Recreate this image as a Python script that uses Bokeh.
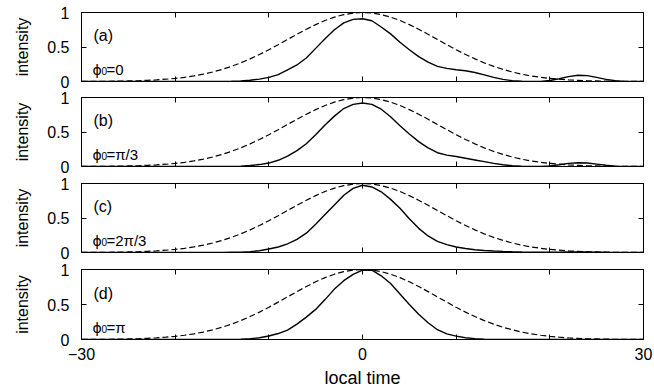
from bokeh.plotting import figure
from bokeh.layouts import column
from bokeh.models import Range1d, FixedTicker, LinearAxis, Label
from bokeh.embed import file_html
from bokeh.resources import INLINE

# ---------------- data ----------------
local_time = list(range(-30, 31))

input_pulse = [0.001, 0.001, 0.002, 0.003, 0.005, 0.008, 0.011, 0.017, 0.023, 0.033,
               0.045, 0.061, 0.081, 0.106, 0.138, 0.175, 0.219, 0.270, 0.328, 0.391,
               0.460, 0.534, 0.609, 0.684, 0.757, 0.824, 0.884, 0.933, 0.969, 0.992,
               1.000,
               0.992, 0.969, 0.933, 0.884, 0.824, 0.757, 0.684, 0.609, 0.534, 0.460,
               0.391, 0.328, 0.270, 0.219, 0.175, 0.138, 0.106, 0.081, 0.061, 0.045,
               0.033, 0.023, 0.017, 0.011, 0.008, 0.005, 0.003, 0.002, 0.001, 0.001]

output_a = [0, 0, 0, 0, 0, 0, 0, 0, 0, 0, 0, 0, 0, 0, 0, 0,
            0.003, 0.008, 0.018, 0.035, 0.06, 0.10, 0.17, 0.24, 0.34, 0.48, 0.62, 0.75, 0.85, 0.90,
            0.91,
            0.88, 0.79, 0.69, 0.57, 0.46, 0.36, 0.28, 0.22, 0.19, 0.17,
            0.155, 0.13, 0.095, 0.06, 0.03, 0.012, 0.004, 0.0, 0.002, 0.015,
            0.04, 0.07, 0.09, 0.085, 0.06, 0.03, 0.01, 0.002, 0.0, 0.0]

output_b = [0, 0, 0, 0, 0, 0, 0, 0, 0, 0, 0, 0, 0, 0, 0, 0,
            0.002, 0.006, 0.014, 0.028, 0.05, 0.09, 0.15, 0.23, 0.33, 0.46, 0.60, 0.73, 0.84, 0.90,
            0.92,
            0.90, 0.83, 0.72, 0.59, 0.47, 0.36, 0.27, 0.20, 0.165, 0.145,
            0.12, 0.095, 0.07, 0.045, 0.025, 0.012, 0.004, 0.0, 0.002, 0.008,
            0.025, 0.045, 0.055, 0.05, 0.035, 0.018, 0.006, 0.001, 0.0, 0.0]

output_c = [0, 0, 0, 0, 0, 0, 0, 0, 0, 0, 0, 0, 0, 0, 0, 0,
            0.003, 0.006, 0.012, 0.025, 0.05, 0.08, 0.125, 0.19, 0.28, 0.41, 0.55, 0.69, 0.83, 0.93,
            0.975,
            0.95, 0.88, 0.77, 0.64, 0.49, 0.35, 0.24, 0.16, 0.115, 0.08,
            0.058, 0.04, 0.03, 0.022, 0.016, 0.011, 0.007, 0.005, 0.004, 0.004,
            0.005, 0.007, 0.008, 0.008, 0.006, 0.003, 0.001, 0.0, 0.0, 0.0]

output_d = [0, 0, 0, 0, 0, 0, 0, 0, 0, 0, 0, 0, 0, 0, 0, 0,
            0.002, 0.005, 0.01, 0.025, 0.05, 0.085, 0.135, 0.22, 0.32, 0.43, 0.57, 0.72, 0.84, 0.93,
            0.99,
            0.99, 0.91, 0.80, 0.65, 0.50, 0.36, 0.24, 0.14, 0.08, 0.048,
            0.025, 0.012, 0.005, 0.002, 0, 0, 0, 0, 0, 0,
            0, 0, 0, 0, 0, 0, 0, 0, 0, 0]

outputs = [output_a, output_b, output_c, output_d]
panel_tags = ["(a)", "(b)", "(c)", "(d)"]
phase_values = ["0", "π/3", "2π/3", "π"]

x_ticks = [-30, -20, -10, 0, 10, 20, 30]
x_labelled_ticks = [-30, 0, 30]
x_tick_labels = {-30: "\u221230", 0: "0", 30: "30"}
y_ticks = [0, 0.5, 1]
y_tick_labels = {0: "0", 0.5: "0.5", 1: "1"}

FONT = "Liberation Sans"

# (height, top border, bottom border) per panel
layout_spec = [(89, 12, 8), (86, 8, 9), (86, 8, 9), (130, 8, 52)]


def ticks_only(ax, ticks):
    """Axis showing inward tick marks but no labels (uses minor ticks)."""
    ax.ticker = FixedTicker(ticks=[], minor_ticks=ticks)
    ax.axis_line_color = "black"
    ax.axis_line_width = 1
    ax.major_tick_line_color = None
    ax.minor_tick_line_color = "black"
    ax.minor_tick_in = 5
    ax.minor_tick_out = 0
    ax.major_label_standoff = 0


def labelled(ax, ticks, labels, minor=None):
    ax.ticker = FixedTicker(ticks=ticks, minor_ticks=minor or [])
    ax.axis_line_color = "black"
    ax.axis_line_width = 1
    ax.major_tick_line_color = "black"
    ax.major_tick_in = 5
    ax.major_tick_out = 0
    ax.minor_tick_line_color = "black"
    ax.minor_tick_in = 5
    ax.minor_tick_out = 0
    ax.major_label_overrides = labels
    ax.major_label_text_font = FONT
    ax.major_label_text_font_size = "16px"
    ax.major_label_text_color = "black"


figs = []
for i in range(4):
    h, bt, bb = layout_spec[i]
    p = figure(width=654, height=h, x_range=Range1d(-30, 30), y_range=Range1d(0, 1),
               output_backend="svg", toolbar_location=None,
               min_border_left=81, min_border_right=11,
               min_border_top=bt, min_border_bottom=bb)
    p.grid.grid_line_color = None
    p.outline_line_color = "black"
    p.outline_line_width = 1
    p.background_fill_color = "white"
    p.border_fill_color = "white"

    # bottom axis
    xa = p.xaxis[0]
    if i == 3:
        labelled(xa, x_labelled_ticks, x_tick_labels,
                 minor=[t for t in x_ticks if t not in x_labelled_ticks])
        xa.major_label_standoff = 8
        xa.axis_label = "local time"
        xa.axis_label_text_font = FONT
        xa.axis_label_text_font_size = "18px"
        xa.axis_label_text_font_style = "normal"
        xa.axis_label_text_color = "black"
        xa.axis_label_standoff = 5
    else:
        ticks_only(xa, x_ticks)

    # left axis
    ya = p.yaxis[0]
    labelled(ya, y_ticks, y_tick_labels)
    ya.major_label_standoff = 12
    ya.axis_label = "intensity"
    ya.axis_label_text_font = FONT
    ya.axis_label_text_font_size = "16px"
    ya.axis_label_text_font_style = "normal"
    ya.axis_label_text_color = "black"
    ya.axis_label_standoff = 13

    # top and right axes (ticks only)
    ta = LinearAxis()
    ticks_only(ta, x_ticks)
    p.add_layout(ta, "above")
    ra = LinearAxis()
    ticks_only(ra, y_ticks)
    p.add_layout(ra, "right")

    p.line(local_time, input_pulse, line_color="black", line_width=1.2, line_dash="6 3")
    p.line(local_time, outputs[i], line_color="black", line_width=1.4)

    p.add_layout(Label(x=-30, y=0.66, x_offset=12, text=panel_tags[i],
                       text_font=FONT, text_font_size="16px", text_color="black",
                       text_baseline="alphabetic"))
    p.add_layout(Label(x=-30, y=0.17, x_offset=11, text="\u03d5",
                       text_font="DejaVu Sans", text_font_size="14px", text_color="black",
                       text_baseline="alphabetic"))
    p.add_layout(Label(x=-30, y=0.17, x_offset=20, y_offset=-1.5, text="0",
                       text_font=FONT, text_font_size="10px", text_color="black",
                       text_baseline="alphabetic"))
    p.add_layout(Label(x=-30, y=0.17, x_offset=25, text="=" + phase_values[i],
                       text_font=FONT, text_font_size="15px", text_color="black",
                       text_baseline="alphabetic"))
    figs.append(p)

layout = column(*figs, spacing=0)
open("out.html", "w").write(file_html(layout, INLINE))
